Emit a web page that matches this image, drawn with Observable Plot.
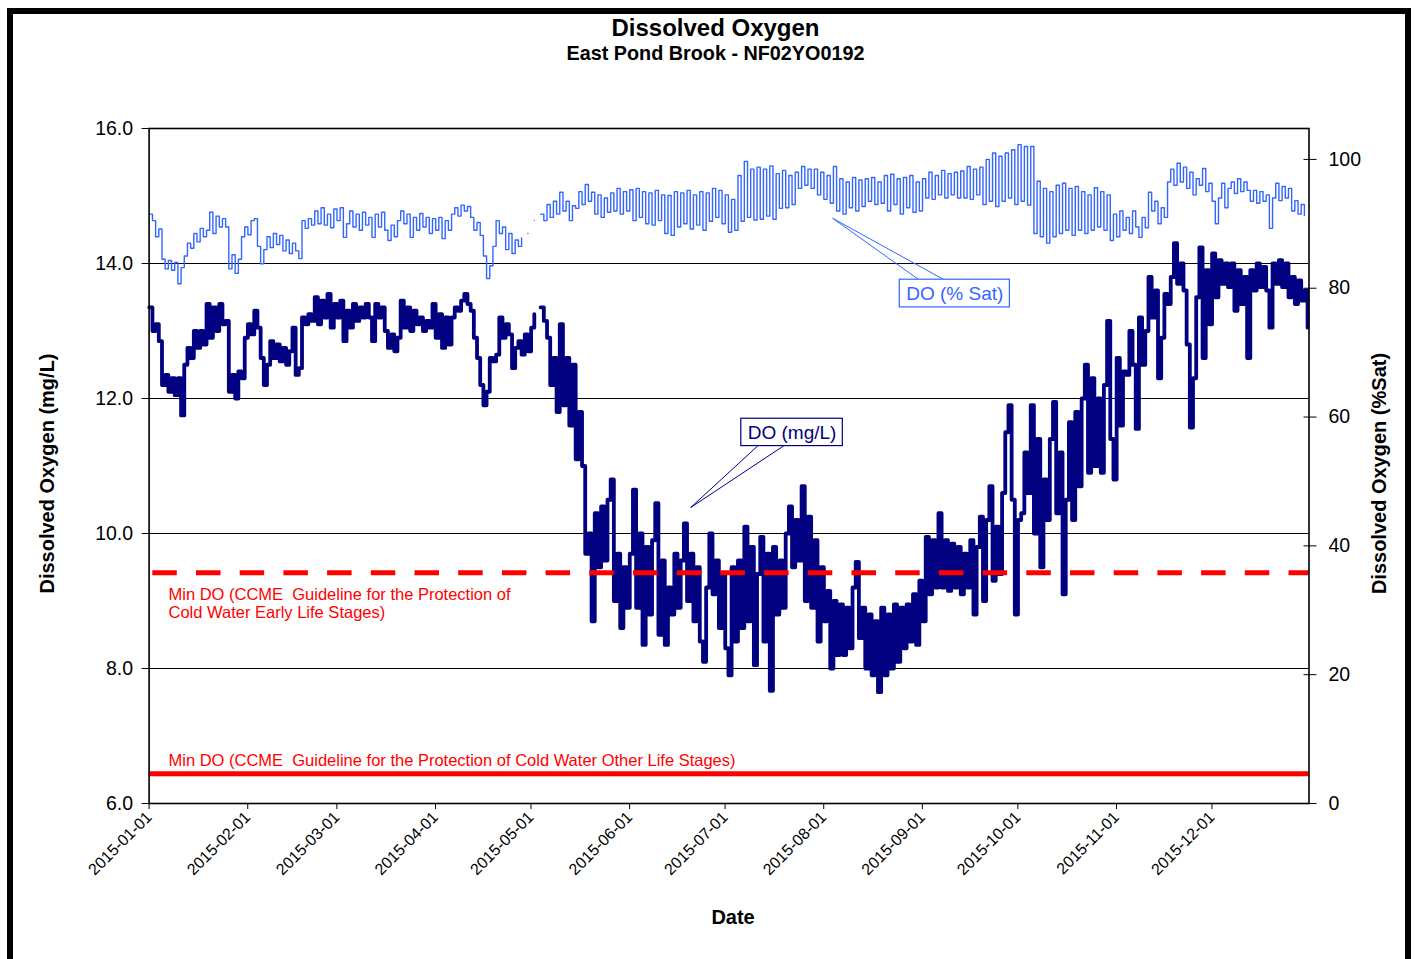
<!DOCTYPE html>
<html><head><meta charset="utf-8">
<script src="https://cdn.jsdelivr.net/npm/d3@7"></script>
<script src="https://cdn.jsdelivr.net/npm/@observablehq/plot@0.6"></script>
<style>
html,body{margin:0;padding:0;background:#fff;width:1415px;height:959px;overflow:hidden;font-family:"Liberation Sans",Arial,sans-serif;}
#border{position:absolute;left:7px;top:8px;width:1404px;height:1000px;border:6px solid #000;box-sizing:border-box;pointer-events:none;}
#title{position:absolute;left:0;top:15.7px;width:1431px;text-align:center;font-weight:bold;font-size:24px;line-height:24px;}
#subtitle{position:absolute;left:0;top:44.3px;width:1431px;text-align:center;font-weight:bold;font-size:19.8px;line-height:19.8px;}
#chart{position:absolute;left:0;top:72px;}
</style></head>
<body>
<div id="title">Dissolved Oxygen</div>
<div id="subtitle">East Pond Brook - NF02YO0192</div>
<div id="chart"></div>
<div id="border"></div>
<script>
// ---- data ----
const startDate = "2015-01-01";
const endDate = "2015-12-31T12:00:00Z";
const monthTicks = ["2015-01-01","2015-02-01","2015-03-01","2015-04-01","2015-05-01","2015-06-01","2015-07-01","2015-08-01","2015-09-01","2015-10-01","2015-11-01","2015-12-01"];
const mgTicks = [6, 8, 10, 12, 14, 16];
const gridTicks = [8, 10, 12, 14];
const satTicks = [0, 20, 40, 60, 80, 100];
const satTop = 104.8;
const guideEarly = 9.42;
const guideOther = 6.44;
const labelEarly = "Min DO (CCME  Guideline for the Protection of\nCold Water Early Life Stages)";
const labelOther = "Min DO (CCME  Guideline for the Protection of Cold Water Other Life Stages)";

// daily readings (alternating daily low / high where diel swing is visible), mg/L
const doMgL = [
13.35,13.0,13.1,12.85,12.2,12.35,12.1,12.3,12.05,12.3,
11.75,12.5,12.75,12.6,13.0,12.75,13.0,12.8,13.4,12.9,
13.35,13.0,13.4,13.1,13.15,12.1,12.35,12.0,12.4,12.3,
12.9,13.1,12.95,13.3,13.05,12.6,12.2,12.5,12.85,12.6,
12.8,12.55,12.75,12.5,12.7,13.05,12.35,12.45,13.2,13.1,
13.25,13.15,13.5,13.1,13.45,13.2,13.55,13.05,13.4,13.2,
13.45,12.85,13.3,13.05,13.4,13.15,13.35,13.2,13.4,13.2,
12.85,13.4,13.2,13.35,13.0,12.75,12.95,12.7,12.9,13.45,
13.05,13.35,13.0,13.3,13.1,13.2,13.0,13.15,13.05,13.4,
12.9,13.25,12.75,13.2,12.8,13.2,13.35,13.3,13.45,13.55,
13.4,13.3,12.9,12.6,12.2,11.9,12.1,12.6,12.55,12.65,
13.2,12.9,13.1,12.95,12.45,12.75,12.85,12.65,12.95,12.7,
13.05,13.25,null,13.35,13.15,12.9,12.2,12.6,11.8,13.1,
11.9,12.6,11.6,12.5,11.1,11.8,11.0,9.7,10.0,8.7,
10.3,9.5,10.4,9.6,10.5,10.8,9.0,9.7,8.6,9.5,
8.9,9.7,10.65,8.9,10.0,8.35,9.8,8.8,9.9,10.45,
8.5,9.6,8.35,9.2,8.8,9.7,8.9,9.6,10.15,9.0,
9.7,8.7,9.5,8.4,8.1,9.2,10.0,9.1,9.6,8.6,
9.4,8.3,7.9,9.5,8.4,9.6,8.6,10.1,8.7,9.8,
8.05,9.4,9.95,8.4,9.7,7.67,9.8,8.8,9.6,8.9,
10.0,10.4,9.5,10.2,9.6,10.7,9.0,10.25,8.9,9.9,
8.4,9.5,8.7,9.15,8.0,9.0,8.2,8.95,8.2,8.9,
8.3,9.2,9.58,8.45,8.9,8.0,8.8,7.9,8.7,7.65,
8.9,7.9,8.8,8.0,8.95,8.1,8.9,8.3,8.95,8.4,
9.1,8.35,9.3,8.7,9.95,9.1,9.9,9.2,10.3,9.2,
9.9,9.15,9.85,9.2,9.8,9.1,9.7,9.2,9.9,8.8,
9.8,10.25,9.0,10.2,10.7,9.3,10.1,9.4,10.6,11.5,
11.9,10.5,8.8,10.2,10.3,11.2,10.6,11.9,10.0,11.4,
9.5,10.8,10.2,11.4,11.95,10.3,11.2,9.1,10.5,11.65,
10.2,11.8,10.7,12.0,12.5,10.9,12.3,11.0,12.0,10.9,
12.2,13.15,11.4,10.8,12.6,11.6,12.4,12.35,13.0,12.5,
11.55,13.2,12.5,13.0,13.8,13.2,13.6,12.3,12.9,13.55,
13.4,13.8,14.3,13.7,14.0,13.6,12.8,11.57,12.3,13.5,
14.24,12.6,13.9,13.1,14.15,13.5,14.05,13.7,14.0,13.65,
14.0,13.3,13.9,13.4,13.8,12.6,13.9,13.6,14.0,13.65,
13.95,13.6,13.05,14.0,13.7,14.05,13.65,14.0,13.5,13.8,
13.4,13.75,13.45,13.6,13.05
];

// daily readings, % saturation
const doSat = [
91.5,90.5,88.0,89.2,84.5,83.0,84.3,82.8,84.0,80.7,
83.2,85.0,87.0,86.2,88.5,87.2,89.3,88.0,89.0,91.8,
88.5,91.2,89.5,90.8,89.5,83.0,85.2,82.3,84.5,88.0,
89.5,88.3,90.5,90.8,86.5,83.8,86.0,88.0,86.3,88.5,
86.8,88.2,85.8,87.5,85.4,87.0,85.8,84.6,90.5,89.3,
90.8,89.8,92.0,90.0,92.5,89.8,91.5,89.4,92.3,90.5,
92.5,87.9,90.0,92.0,89.5,91.5,89.0,91.8,89.8,91.0,
87.9,91.5,89.5,91.8,89.0,87.4,89.8,88.0,90.5,92.0,
90.0,91.5,87.9,91.0,89.0,91.6,89.5,91.0,88.5,90.8,
89.0,91.0,87.7,90.5,89.0,91.5,92.5,91.2,92.9,92.0,
92.7,91.0,89.0,90.2,88.2,85.0,81.5,83.5,86.5,90.5,
88.5,89.5,86.0,88.5,85.4,87.5,86.5,87.8,null,88.5,
null,90.5,null,91.5,90.5,93.0,91.0,93.5,91.5,94.9,
92.0,93.5,90.5,92.8,92.4,95.0,93.0,96.1,93.5,94.9,
91.5,94.5,91.0,94.0,91.8,94.8,92.0,95.5,91.5,95.0,
92.0,95.3,90.5,95.5,91.0,95.0,90.0,94.8,89.8,95.2,
90.5,94.5,88.5,94.4,88.2,95.0,89.5,94.8,90.0,95.2,
89.2,94.5,89.8,95.0,89.0,94.8,90.4,95.5,91.0,95.2,
90.0,94.5,88.7,93.8,89.0,97.5,90.4,99.7,91.0,98.5,
90.6,98.8,90.7,98.5,91.2,99.0,90.7,97.8,92.4,98.3,
92.5,97.5,93.0,98.0,95.5,98.9,96.0,98.5,95.5,98.5,
94.5,98.0,93.8,97.5,93.2,98.9,92.0,97.0,91.5,96.5,
92.5,97.2,92.0,96.8,92.7,97.0,93.5,97.2,93.0,96.5,
93.2,97.5,92.0,97.7,93.0,97.0,91.5,97.2,92.5,97.5,
91.8,96.5,92.0,97.0,94.0,98.0,93.8,97.5,94.5,98.3,
94.0,97.8,94.5,98.0,94.0,98.2,94.0,98.9,93.8,98.5,
94.5,98.8,93.0,100.0,93.5,101.0,92.7,100.5,93.5,101.0,
94.0,101.5,93.0,102.3,93.5,102.0,92.9,102.0,88.5,96.6,
88.0,95.5,87.0,95.0,88.0,96.0,88.5,96.3,89.0,95.5,
88.2,95.8,89.0,95.0,88.5,94.5,89.0,95.6,89.5,95.0,
89.0,94.5,87.4,91.5,88.0,92.0,89.0,91.0,88.5,92.0,
89.5,87.9,91.0,89.4,94.9,92.0,93.5,90.0,92.5,91.0,
96.5,98.5,96.0,99.4,96.5,98.8,95.5,98.0,94.5,97.0,
96.0,98.6,95.0,96.3,93.5,90.0,94.0,96.3,92.5,95.5,
96.5,94.7,97.0,95.0,96.5,95.2,93.5,95.2,93.2,95.0,
93.5,94.5,89.3,94.0,96.3,93.6,95.8,94.0,95.5,92.0,
93.6,91.5,93.0,91.3,null
];

// callout geometry (day of year, mg/L)
const satCalloutWedge = [[241.9, 13.76], [214.8, 14.67], [249.8, 13.76]];
const satCalloutBox = [235.9, 270.5, 13.35, 13.76];
const mgCalloutWedge = [[191.2, 11.295], [170.2, 10.385], [199.3, 11.295]];
const mgCalloutBox = [186.1, 218.0, 11.295, 11.70];

// ---- build ----
const DAY = 86400000;
const t0 = new Date(startDate + "T00:00:00Z").getTime();
const dayDate = d => new Date(t0 + d * DAY);
const satToMg = s => 6 + s * 10 / satTop;
const rows = doMgL.map((v, i) => ({date: dayDate(i + 0.05), mg: v, sat: doSat[i]}));
const navy = "#000080", light = "#3366FF", red = "#FF0000";
const font = "Liberation Sans, Arial, sans-serif";

const box = (b) => [{x1: dayDate(b[0]), x2: dayDate(b[1]), y1: b[2], y2: b[3]}];
const pts = (w) => w.map(p => ({x: dayDate(p[0]), y: p[1]}));

const chart = Plot.plot({
  width: 1415,
  height: 887,
  marginLeft: 148.6,
  marginRight: 106.5,
  marginTop: 56,
  marginBottom: 156,
  style: {background: "transparent", fontFamily: font, color: "black", overflow: "visible"},
  x: {type: "utc", domain: [new Date(startDate + "T00:00:00Z"), new Date(endDate)], label: null},
  y: {domain: [6, 16], label: null},
  marks: [
    Plot.gridY(gridTicks, {stroke: "black", strokeOpacity: 1, strokeWidth: 1}),
    Plot.line(rows, {x: "date", y: d => d.sat == null ? NaN : satToMg(d.sat), curve: "step-after", stroke: light, strokeWidth: 1.4}),
    Plot.line(rows, {x: "date", y: d => d.mg == null ? NaN : d.mg, curve: "step-after", stroke: navy, strokeWidth: 3.8}),
    Plot.ruleY([guideEarly], {stroke: red, strokeWidth: 5, strokeDasharray: "24.5,19.2", strokeDashoffset: 40}),
    Plot.ruleY([guideOther], {stroke: red, strokeWidth: 5}),
    Plot.text([labelEarly], {x: dayDate(6.1), y: 8.963, textAnchor: "start", lineAnchor: "middle", fill: red, fontSize: 16.5, lineHeight: 1.1}),
    Plot.text([labelOther], {x: dayDate(6.1), y: 6.637, textAnchor: "start", lineAnchor: "middle", fill: red, fontSize: 16.5}),
    // callouts
    Plot.line(pts(satCalloutWedge), {x: "x", y: "y", stroke: light, strokeWidth: 1}),
    Plot.rect(box(satCalloutBox), {x1: "x1", x2: "x2", y1: "y1", y2: "y2", fill: "white", stroke: light, strokeWidth: 1.2}),
    Plot.text(["DO (% Sat)"], {x: dayDate((satCalloutBox[0] + satCalloutBox[1]) / 2), y: (satCalloutBox[2] + satCalloutBox[3]) / 2, fill: light, fontSize: 19}),
    Plot.line(pts(mgCalloutWedge), {x: "x", y: "y", stroke: navy, strokeWidth: 1}),
    Plot.rect(box(mgCalloutBox), {x1: "x1", x2: "x2", y1: "y1", y2: "y2", fill: "white", stroke: navy, strokeWidth: 1.2}),
    Plot.text(["DO (mg/L)"], {x: dayDate((mgCalloutBox[0] + mgCalloutBox[1]) / 2), y: (mgCalloutBox[2] + mgCalloutBox[3]) / 2, fill: navy, fontSize: 19}),
    // axes
    Plot.frame({stroke: "black", strokeWidth: 1.6}),
    Plot.axisY(mgTicks, {anchor: "left", tickFormat: d3.format(".1f"), tickSize: 7, tickPadding: 9, fontSize: 19.5, label: null}),
    Plot.axisY(satTicks.map(satToMg), {anchor: "right", tickFormat: v => String(Math.round((v - 6) * satTop / 10)), tickSize: 13, dx: -6, tickPadding: 12.5, fontSize: 19.5, label: null}),
    Plot.axisX(monthTicks.map(s => new Date(s + "T00:00:00Z")), {tickFormat: d3.utcFormat("%Y-%m-%d"), tickRotate: -45, tickSize: 6, tickPadding: 5, fontSize: 16, label: null}),
    Plot.text(["Date"], {frameAnchor: "bottom", dx: 4, dy: 120, lineAnchor: "bottom", fontWeight: "bold", fontSize: 20}),
    Plot.text(["Dissolved Oxygen (mg/L)"], {frameAnchor: "left", textAnchor: "middle", rotate: -90, dx: -102, dy: 7.5, fontWeight: "bold", fontSize: 20}),
    Plot.text(["Dissolved Oxygen (%Sat)"], {frameAnchor: "right", textAnchor: "middle", rotate: -90, dx: 71, dy: 7.5, fontWeight: "bold", fontSize: 20})
  ]
});
document.getElementById("chart").appendChild(chart);
</script>
</body></html>
